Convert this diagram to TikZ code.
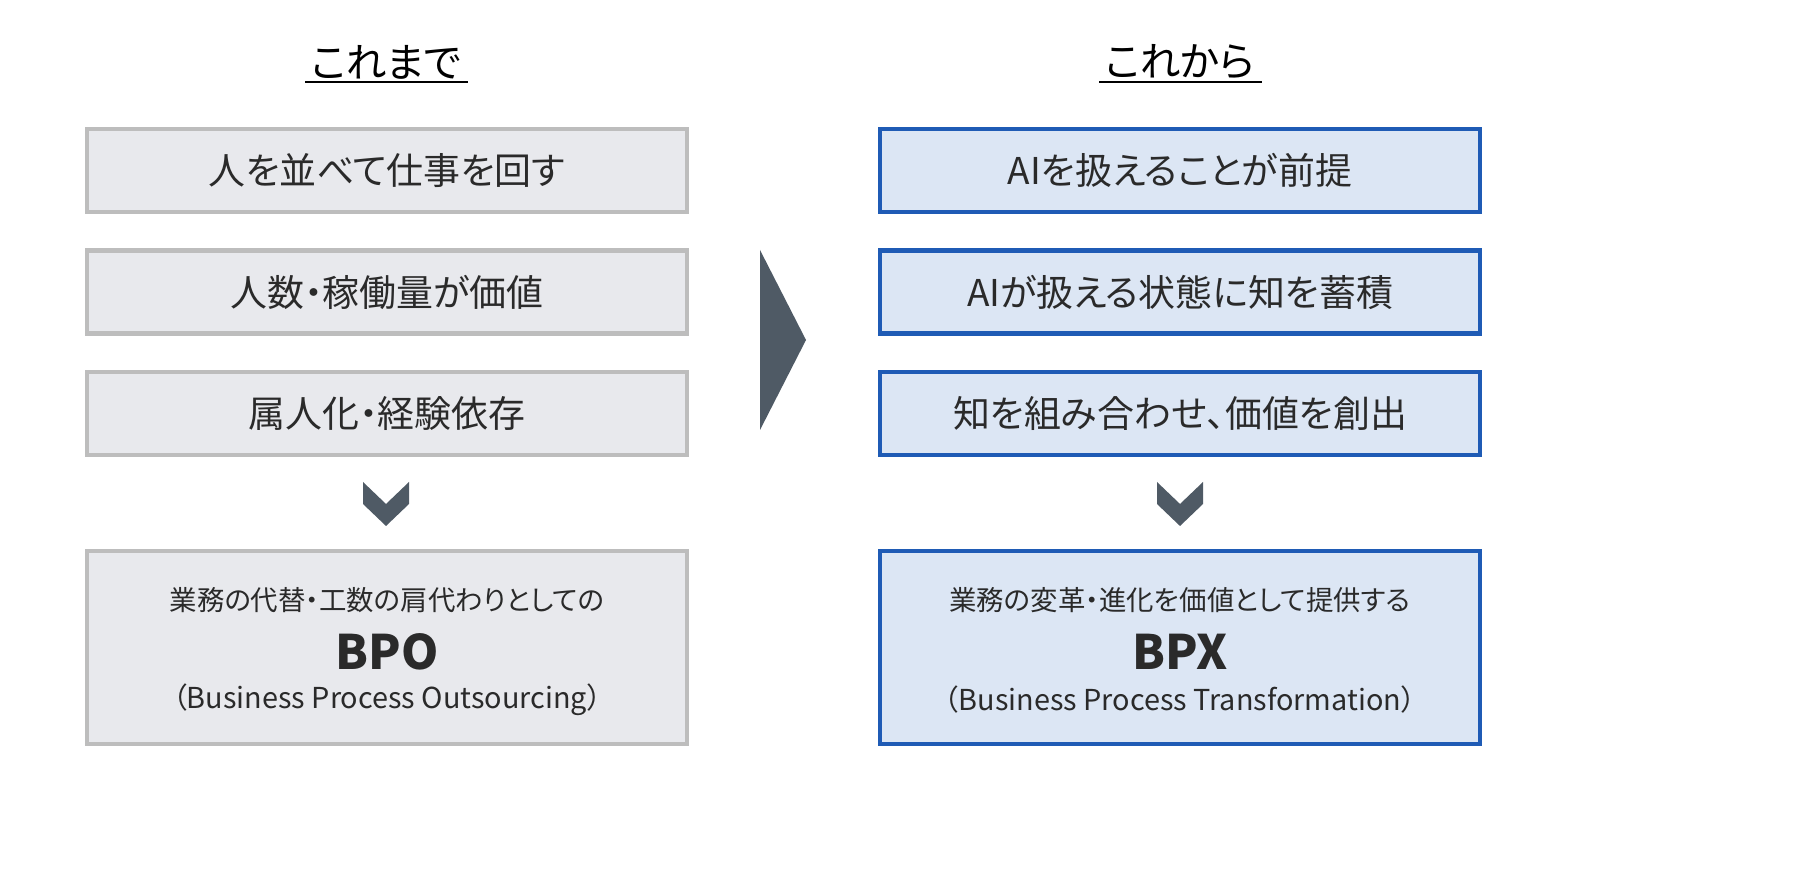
\documentclass[tikz,border=0pt]{standalone}
\usepackage{fontspec}
\setmainfont{Noto Sans CJK JP}[RawFeature=+palt]
\usetikzlibrary{positioning}
\definecolor{oldfill}{HTML}{E8E9ED}
\definecolor{olddraw}{HTML}{BDBDBD}
\definecolor{newfill}{HTML}{DCE6F4}
\definecolor{newdraw}{HTML}{1F5BB5}
\definecolor{markgray}{HTML}{4F5A65}
\definecolor{ink}{HTML}{2A2A2A}
\tikzset{
  oldbox/.style={
    rectangle,
    fill=oldfill,
    draw=olddraw, line width=1.2pt,
    minimum width=6cm,
    minimum height=0.83cm,
    text=ink, font=\fontsize{10.5}{12}\selectfont},
  newbox/.style={oldbox, fill=newfill, draw=newdraw},
  bigold/.style={oldbox, minimum height=1.93cm},
  bignew/.style={newbox, minimum height=1.93cm},
  heading/.style={font=\fontsize{11.5}{13}\selectfont, text=black},
  small/.style={font=\fontsize{7.8}{9}\selectfont, text=ink},
  abbr/.style={font=\fontsize{13.5}{15}\selectfont\bfseries, text=ink},
  paren/.style={font=\fontsize{8.2}{10}\selectfont, text=ink},
}
\begin{document}
\begin{tikzpicture}[x=0.01cm, y=-0.01cm]
  \useasboundingbox (0,0) rectangle (1800,892);
  \clip (0,0) rectangle (1800,892);
  % headings
  \node[heading] (PastTitle) at (386,62) {これまで};
  \node[heading] (NextTitle) at (1180,62) {これから};
  \draw (305,82) -- (468,82);
  \draw (1099,82) -- (1262,82);
  % left column
  \node[oldbox] (PastA) at (387,170.5) {人を並べて仕事を回す};
  \node[oldbox] (PastB) at (387,292) {人数・稼働量が価値};
  \node[oldbox] (PastC) at (387,413.5) {属人化・経験依存};
  \node[bigold] (BPO) at (387,647.5) {};
  \node[small] at (387,600) {業務の代替・工数の肩代わりとしての};
  \node[abbr] at (387,652) {BPO};
  \node[paren] at (387,700) {（Business Process Outsourcing）};
  % right column
  \node[newbox] (NextA) at (1180,170.5) {AIを扱えることが前提};
  \node[newbox] (NextB) at (1180,292) {AIが扱える状態に知を蓄積};
  \node[newbox] (NextC) at (1180,413.5) {知を組み合わせ、価値を創出};
  \node[bignew] (BPX) at (1180,647.5) {};
  \node[small] at (1180,600) {業務の変革・進化を価値として提供する};
  \node[abbr] at (1180,652) {BPX};
  \node[paren] at (1180,700) {（Business Process Transformation）};
  % marks
  \fill[markgray] (760,250) -- (806,340) -- (760,430) -- cycle;
  \foreach \cx in {386,1180}
    \fill[markgray] (\cx-23,482) -- (\cx,504) -- (\cx+23,482) -- (\cx+23,504)
      -- (\cx,526) -- (\cx-23,504) -- cycle;
\end{tikzpicture}
\end{document}
